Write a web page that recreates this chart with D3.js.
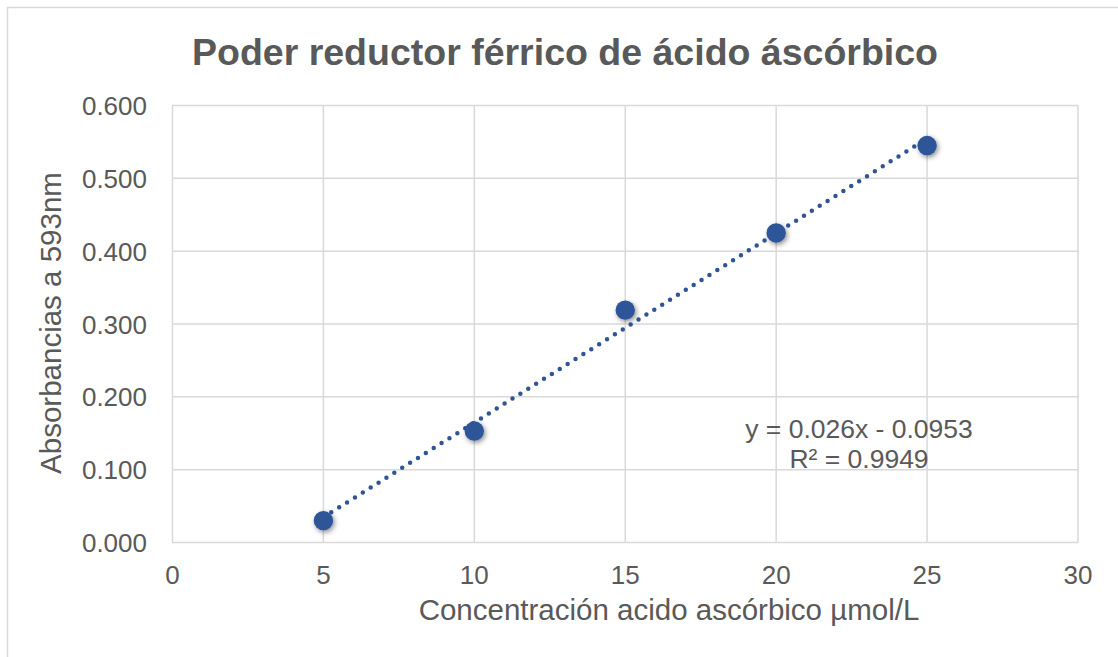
<!DOCTYPE html>
<html>
<head>
<meta charset="utf-8">
<script src="https://cdn.jsdelivr.net/npm/d3@7"></script>
<style>
  body { margin: 0; background: #fff; }
  svg { display: block; font-family: "Liberation Sans", Arial, sans-serif; }
</style>
</head>
<body>
<svg id="chart" width="1118" height="657"></svg>
<script>
// data
const concentrations = [5, 10, 15, 20, 25];
const absorbances = [0.030, 0.153, 0.319, 0.425, 0.545];
const xTicks = [0, 5, 10, 15, 20, 25, 30];
const yTicks = [0, 0.1, 0.2, 0.3, 0.4, 0.5, 0.6];
const slope = 0.026, intercept = -0.0953;

const svg = d3.select("#chart");
const grey = "#595959", grid = "#d9d9d9", blue = "#2f5597";

svg.append("rect")
  .attr("x", 7.5).attr("y", 7.5).attr("width", 1120).attr("height", 660)
  .attr("fill", "#fff").attr("stroke", grid).attr("stroke-width", 1.5);

const x = d3.scaleLinear().domain([0, 30]).range([172.5, 1078]);
const y = d3.scaleLinear().domain([0, 0.6]).range([542.5, 105.5]);

// gridlines
svg.append("g").selectAll("line").data(yTicks).join("line")
  .attr("x1", x(0)).attr("x2", x(30))
  .attr("y1", d => y(d)).attr("y2", d => y(d))
  .attr("stroke", grid).attr("stroke-width", 1.5);
svg.append("g").selectAll("line").data(xTicks).join("line")
  .attr("y1", y(0)).attr("y2", y(0.6))
  .attr("x1", d => x(d)).attr("x2", d => x(d))
  .attr("stroke", grid).attr("stroke-width", 1.5);

// tick labels
svg.append("g").selectAll("text").data(yTicks).join("text")
  .attr("x", 147).attr("y", d => y(d) + 9.5)
  .attr("text-anchor", "end").attr("font-size", 26).attr("fill", grey)
  .text(d => d3.format(".3f")(d));
svg.append("g").selectAll("text").data(xTicks).join("text")
  .attr("x", d => x(d)).attr("y", 584)
  .attr("text-anchor", "middle").attr("font-size", 26).attr("fill", grey)
  .text(d => d);

// titles
svg.append("text").attr("x", 565).attr("y", 65)
  .attr("text-anchor", "middle").attr("font-size", 37.5).attr("font-weight", "bold")
  .attr("fill", grey).text("Poder reductor férrico de ácido áscórbico");
svg.append("text").attr("x", 669).attr("y", 620)
  .attr("text-anchor", "middle").attr("font-size", 29.5).attr("fill", grey)
  .text("Concentración acido ascórbico µmol/L");
svg.append("text").attr("transform", "translate(61,323) rotate(-90)")
  .attr("text-anchor", "middle").attr("font-size", 29.5).attr("fill", grey)
  .text("Absorbancias a 593nm");

// trendline
svg.append("line")
  .attr("x1", x(5)).attr("y1", y(slope * 5 + intercept))
  .attr("x2", x(25)).attr("y2", y(slope * 25 + intercept))
  .attr("stroke", blue).attr("stroke-width", 4.5)
  .attr("stroke-linecap", "round").attr("stroke-dasharray", "0 9.3");

// markers with soft shadow
const defs = svg.append("defs");
const f = defs.append("filter").attr("id", "sh").attr("x", "-50%").attr("y", "-50%")
  .attr("width", "200%").attr("height", "200%");
f.append("feDropShadow").attr("dx", 1.5).attr("dy", 2).attr("stdDeviation", 2.5)
  .attr("flood-color", "#000").attr("flood-opacity", 0.45);

svg.append("g").selectAll("circle").data(concentrations).join("circle")
  .attr("cx", d => x(d)).attr("cy", (d, i) => y(absorbances[i]))
  .attr("r", 9.7).attr("fill", blue).attr("filter", "url(#sh)");

// equation label
const eq = svg.append("text").attr("font-size", 26.5).attr("fill", grey).attr("text-anchor", "middle");
eq.append("tspan").attr("x", 859).attr("y", 438).text("y = 0.026x - 0.0953");
eq.append("tspan").attr("x", 859).attr("y", 468).text("R² = 0.9949");
</script>
</body>
</html>
